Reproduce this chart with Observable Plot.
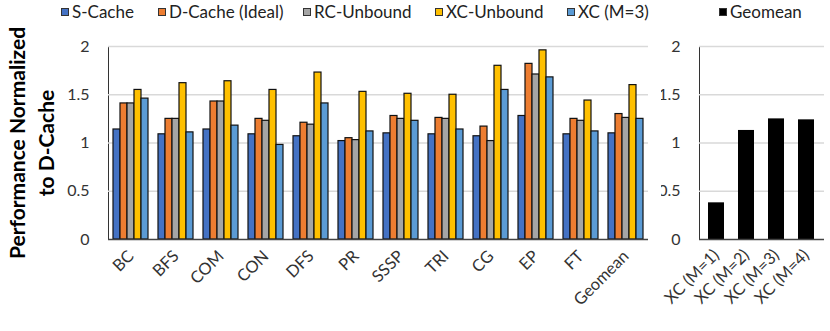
<!DOCTYPE html>
<html><head><meta charset="utf-8">
<script src="https://cdn.jsdelivr.net/npm/d3@7"></script>
<script src="https://cdn.jsdelivr.net/npm/@observablehq/plot@0.6"></script>
<style>
html,body{margin:0;padding:0;background:#fff;}
#wrap{position:relative;width:830px;height:331px;overflow:hidden;font-family:Lato,sans-serif;background:#fff;}
#legend{position:absolute;left:0;top:0;width:830px;height:26px;}
.item{position:absolute;top:2px;display:flex;align-items:center;font-size:17px;color:#222;white-space:nowrap;line-height:20px;}
.sw{width:6px;height:6px;border:1px solid #333;margin-right:3px;}
#left{position:absolute;left:0;top:26px;}
#right{position:absolute;left:661px;top:26px;}
#ylabel{position:absolute;left:-119px;top:114px;width:300px;height:58px;line-height:29px;text-align:center;font-weight:bold;font-size:21px;color:#000;transform:rotate(-90deg);z-index:5;}
</style></head>
<body>
<div id="wrap">
  <div id="legend"></div>
  <div id="left"></div>
  <div id="right"></div>
  <div id="ylabel">Performance Normalized<br>to D-Cache</div>
</div>
<script>
// ---- data ----
const categories = ["BC","BFS","COM","CON","DFS","PR","SSSP","TRI","CG","EP","FT","Geomean"];
const series = ["S-Cache","D-Cache (Ideal)","RC-Unbound","XC-Unbound","XC (M=3)"];
const colors = ["#4472C4","#ED7D31","#A5A5A5","#FFC000","#5B9BD5"];
const sCache    = [1.14,1.09,1.14,1.09,1.07,1.02,1.10,1.09,1.07,1.28,1.09,1.10];
const dCache    = [1.41,1.25,1.43,1.25,1.21,1.05,1.28,1.26,1.17,1.82,1.25,1.30];
const rcUnbound = [1.41,1.25,1.43,1.23,1.19,1.03,1.25,1.25,1.02,1.71,1.23,1.26];
const xcUnbound = [1.55,1.62,1.64,1.55,1.73,1.53,1.51,1.50,1.80,1.96,1.44,1.60];
const xcM3      = [1.46,1.11,1.18,0.98,1.41,1.12,1.23,1.14,1.55,1.68,1.12,1.25];
const mLabels = ["XC (M=1)","XC (M=2)","XC (M=3)","XC (M=4)"];
const geomeanM = [0.38,1.13,1.25,1.24];
const yTicks = [0,0.5,1,1.5,2];
const yTickLabels = ["0","0.5","1","1.5","2"];
const gridTicks = [0.5,1,1.5,2];

// ---- tables ----
const seriesValues = [sCache, dCache, rcUnbound, xcUnbound, xcM3];
const rows = [];
categories.forEach((c, i) => series.forEach((s, j) => rows.push({cat: c, series: s, value: seriesValues[j][i]})));
const rightRows = mLabels.map((m, i) => ({m, value: geomeanM[i]}));
const fmtY = d => yTickLabels[yTicks.indexOf(d)];

// ---- legend ----
const legendX = [61,158,303,435,567];
const legend = document.getElementById("legend");
function addItem(label, color, x) {
  const d = document.createElement("div");
  d.className = "item"; d.style.left = x + "px";
  d.innerHTML = `<span class="sw" style="background:${color}"></span><span>${label}</span>`;
  legend.appendChild(d);
}
series.forEach((s, i) => addItem(s, colors[i], legendX[i]));
addItem("Geomean", "#000", 719);

const style = {fontFamily: "Lato, sans-serif", fontSize: "16px", color: "#333", background: "white", overflow: "hidden"};

// ---- left chart ----
const left = Plot.plot({
  width: 658, height: 305,
  marginLeft: 107, marginRight: 10, marginTop: 20, marginBottom: 92,
  style,
  facet: {data: rows, x: "cat"},
  fx: {domain: categories, paddingInner: 0, paddingOuter: 0, axis: "bottom", tickRotate: -45, tickSize: 0, tickPadding: 14, label: null},
  x: {domain: series, paddingInner: 0, paddingOuter: 0.5, axis: null},
  y: {domain: [0, 2], ticks: yTicks, tickFormat: fmtY, tickSize: 0, tickPadding: 19, label: null, line: true},
  color: {domain: series, range: colors},
  marks: [
    Plot.ruleY(gridTicks, {stroke: "#d9d9d9", strokeWidth: 1.3}),
    Plot.barY(rows, {x: "series", y: "value", fill: "series", stroke: "#111", strokeWidth: 1.2}),
    Plot.ruleY([0], {stroke: "#444", strokeWidth: 1.3})
  ]
});
document.getElementById("left").appendChild(left);

// ---- right chart ----
const right = Plot.plot({
  width: 169, height: 305,
  marginLeft: 38, marginRight: 6, marginTop: 20, marginBottom: 92,
  style,
  x: {domain: mLabels, paddingInner: 0.46, paddingOuter: 0.25, tickRotate: -45, tickSize: 0, tickPadding: 13, label: null},
  y: {domain: [0, 2], ticks: yTicks, tickFormat: fmtY, tickSize: 0, tickPadding: 19, label: null, line: true},
  marks: [
    Plot.ruleY(gridTicks, {stroke: "#d9d9d9", strokeWidth: 1.3}),
    Plot.barY(rightRows, {x: "m", y: "value", fill: "#000"}),
    Plot.ruleY([0], {stroke: "#444", strokeWidth: 1.3})
  ]
});
document.getElementById("right").appendChild(right);
</script>
<style>
#left [aria-label^="fx-axis"] text, #right [aria-label^="x-axis"] text {font-size:16.5px;}
</style>
</body></html>
